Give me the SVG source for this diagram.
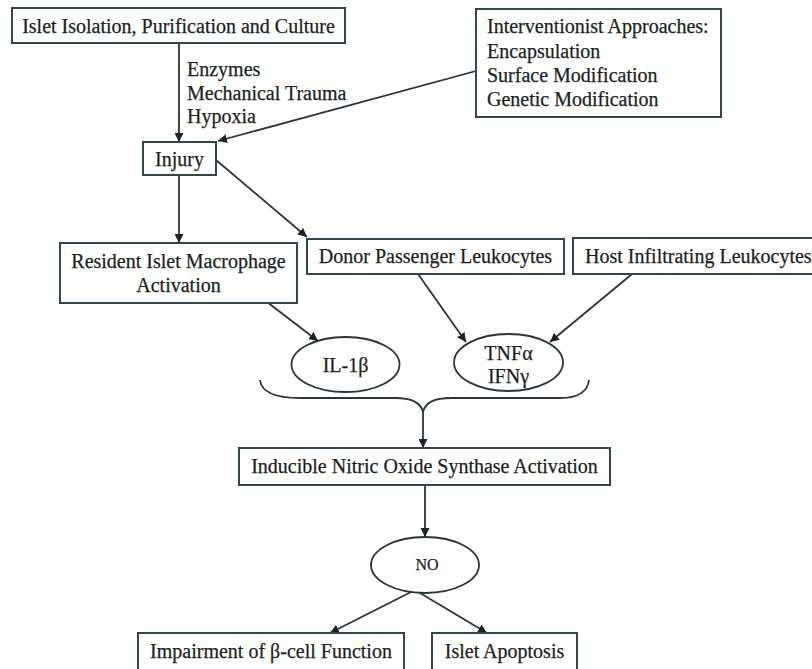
<svg xmlns="http://www.w3.org/2000/svg" width="812" height="669" viewBox="0 0 812 669">
<style>
.box{fill:#fff;stroke:#34444b;stroke-width:2}
.ell{fill:#fff;stroke:#2b3438;stroke-width:1.8}
.t{font-family:"Liberation Serif","Times New Roman",serif;font-size:20px;fill:#1a1f22;stroke:#1a1f22;stroke-width:0.25}
.c{text-anchor:middle}
.ln{fill:none;stroke:#2b3438;stroke-width:1.8}
</style>
<defs>
<marker id="ah" viewBox="0 0 10 10" refX="10" refY="5" markerWidth="9" markerHeight="9" markerUnits="userSpaceOnUse" orient="auto">
<path d="M0,0 L10,5 L0,10 z" fill="#1e2326"/>
</marker>
</defs>
<rect width="812" height="669" fill="#fff"/>
<g id="connectors">
<line class="ln" x1="179" y1="43" x2="179" y2="142" marker-end="url(#ah)"/>
<line class="ln" x1="476" y1="71" x2="218" y2="141" marker-end="url(#ah)"/>
<line class="ln" x1="179" y1="175" x2="179" y2="243" marker-end="url(#ah)"/>
<line class="ln" x1="216" y1="160" x2="307" y2="237" marker-end="url(#ah)"/>
<line class="ln" x1="267" y1="302" x2="318" y2="341" marker-end="url(#ah)"/>
<line class="ln" x1="418" y1="274" x2="466" y2="342" marker-end="url(#ah)"/>
<line class="ln" x1="632" y1="274" x2="550" y2="342" marker-end="url(#ah)"/>
<path class="ln" d="M260,380 Q262,398 300,398 L395,398 Q420,398 423,412 Q426,398 451,398 L560,398 Q587,398 589,380"/>
<line class="ln" x1="423" y1="412" x2="423" y2="448" marker-end="url(#ah)"/>
<line class="ln" x1="425" y1="485" x2="425" y2="537" marker-end="url(#ah)"/>
<line class="ln" x1="415" y1="590" x2="330" y2="633" marker-end="url(#ah)"/>
<line class="ln" x1="415" y1="590" x2="487" y2="633" marker-end="url(#ah)"/>
</g>
<g id="n-isolation">
<rect class="box" x="12" y="8" width="333" height="35"/>
<text class="t c" x="178.5" y="33">Islet Isolation, Purification and Culture</text>
</g>
<g id="l-causes">
<text class="t" x="187" y="76">Enzymes</text>
<text class="t" x="187" y="100">Mechanical Trauma</text>
<text class="t" x="187" y="123">Hypoxia</text>
</g>
<g id="n-intervention">
<rect class="box" x="476" y="9" width="245" height="108"/>
<text class="t" x="487" y="33">Interventionist Approaches:</text>
<text class="t" x="487" y="58">Encapsulation</text>
<text class="t" x="487" y="82">Surface Modification</text>
<text class="t" x="487" y="106">Genetic Modification</text>
</g>
<g id="n-injury">
<rect class="box" x="143" y="142" width="73" height="33"/>
<text class="t c" x="179.5" y="166">Injury</text>
</g>
<g id="n-macrophage">
<rect class="box" x="60" y="243" width="237" height="60"/>
<text class="t c" x="178.5" y="268">Resident Islet Macrophage</text>
<text class="t c" x="178.5" y="292">Activation</text>
</g>
<g id="n-donor">
<rect class="box" x="307" y="239" width="257" height="35"/>
<text class="t c" x="435.5" y="263">Donor Passenger Leukocytes</text>
</g>
<g id="n-host">
<rect class="box" x="573" y="238" width="245" height="36"/>
<text class="t" x="585" y="263">Host Infiltrating Leukocytes</text>
</g>
<g id="n-il1b">
<ellipse class="ell" cx="345.5" cy="364.5" rx="54" ry="27.5"/>
<text class="t c" x="345.5" y="372">IL-1β</text>
</g>
<g id="n-tnf">
<ellipse class="ell" cx="508.5" cy="362.5" rx="54.5" ry="28.5"/>
<text class="t c" x="508.5" y="360">TNFα</text>
<text class="t c" x="508.5" y="383">IFNγ</text>
</g>
<g id="n-inos">
<rect class="box" x="239" y="448" width="371" height="37"/>
<text class="t c" x="424.5" y="473">Inducible Nitric Oxide Synthase Activation</text>
</g>
<g id="n-no">
<ellipse class="ell" cx="425" cy="565" rx="54" ry="28"/>
<text class="t c" x="427" y="570" style="font-size:16px">NO</text>
</g>
<g id="n-impairment">
<rect class="box" x="138" y="633" width="266" height="45"/>
<text class="t c" x="271" y="658">Impairment of β-cell Function</text>
</g>
<g id="n-apoptosis">
<rect class="box" x="432" y="633" width="145" height="45"/>
<text class="t c" x="504.5" y="658">Islet Apoptosis</text>
</g>
</svg>
